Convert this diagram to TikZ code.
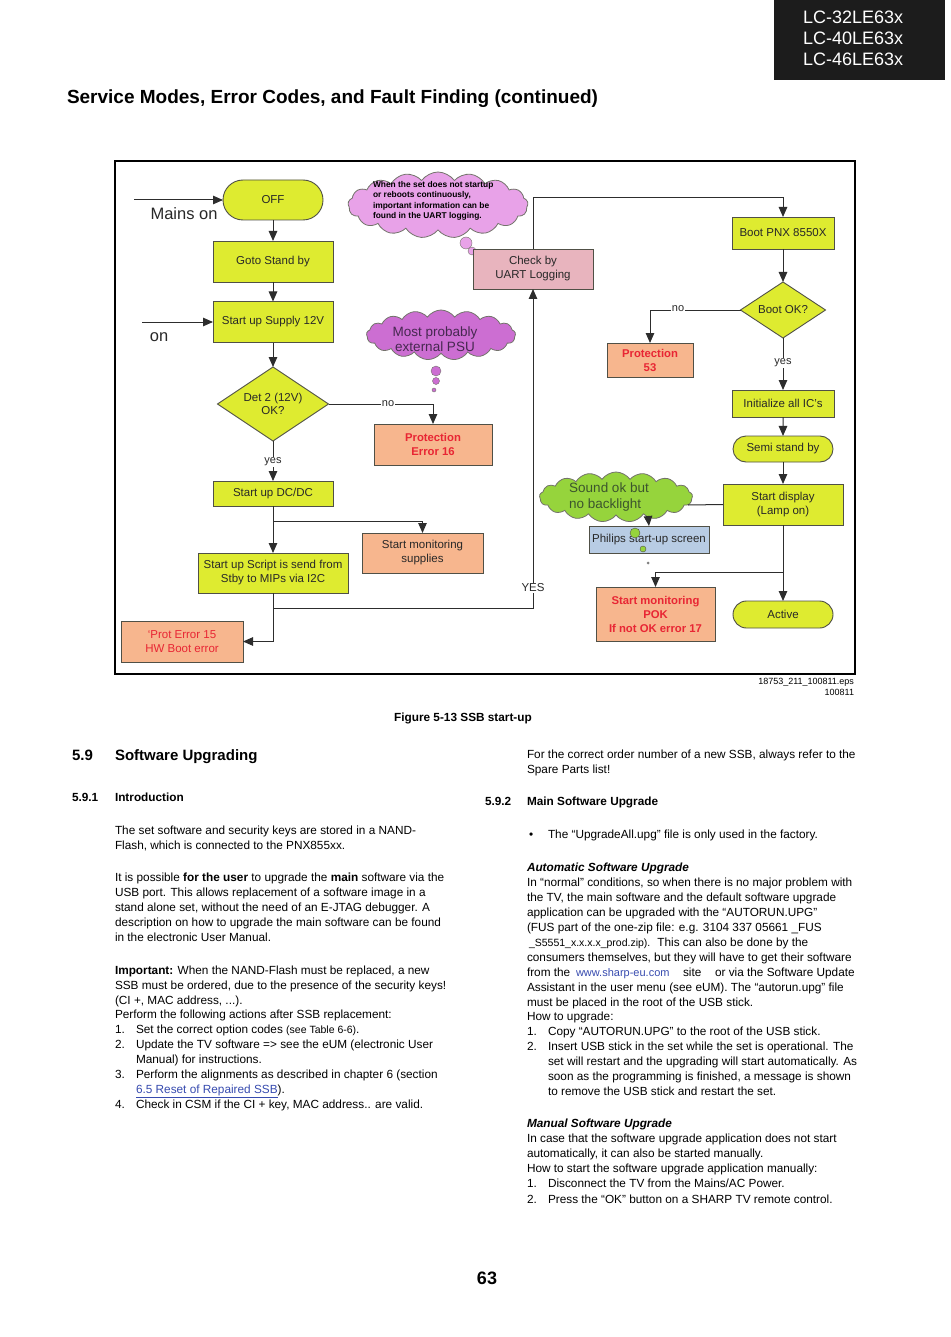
\documentclass[tikz,border=0pt]{standalone}
\usepackage{fontspec}
\setmainfont{Liberation Sans}
\usetikzlibrary{arrows.meta,shapes.geometric,shapes.symbols,shapes.misc}
\definecolor{yfill}{RGB}{222,235,48}
\definecolor{bdr}{RGB}{80,80,70}
\definecolor{salm}{RGB}{247,182,142}
\definecolor{redt}{RGB}{232,38,52}
\definecolor{uartc}{RGB}{232,180,190}
\definecolor{lilac}{RGB}{232,162,232}
\definecolor{magc}{RGB}{204,110,210}
\definecolor{grc}{RGB}{150,212,60}
\definecolor{bluebox}{RGB}{184,204,228}
\definecolor{txtc}{RGB}{40,40,40}
\definecolor{lnc}{RGB}{45,45,45}
\definecolor{linkc}{RGB}{55,75,175}
\definecolor{hdr}{RGB}{28,28,28}
\newcount\tlc
\newcommand\Ltx[3]{\global\advance\tlc by 1\relax
  \node[bt] (tl\the\tlc) at (#1,#2) {#3};}
\begin{document}
\begin{tikzpicture}[x=1pt,y=-1pt,
  every node/.style={inner sep=0pt,outer sep=0pt},
  ln/.style={draw=lnc,line width=1pt},
  arr/.style={ln,-{Triangle[length=10pt,width=8.5pt]}},
  box/.style={draw=bdr,line width=0.9pt,align=center,text=txtc,
    font=\fontsize{11.5}{14}\selectfont},
  ybox/.style={box,fill=yfill},
  sbox/.style={box,fill=salm},
  rbox/.style={sbox,text=redt,font=\bfseries\fontsize{11.3}{14}\selectfont},
  pill/.style={ybox,rounded rectangle},
  dia/.style={diamond,draw=bdr,fill=yfill,line width=0.9pt},
  dtext/.style={align=center,text=txtc,font=\fontsize{11.5}{13}\selectfont},
  lab/.style={fill=white,inner sep=1pt,text=txtc,font=\fontsize{11}{12}\selectfont},
  cl/.style={cloud,cloud puffs=17,cloud puff arc=110,cloud ignores aspect,draw=bdr!80,line width=0.8pt},
  bt/.style={anchor=base west,text=black,font=\fontsize{11.8}{15}\selectfont},
]
\useasboundingbox (0,0) rectangle (950,1337);
\fill[white] (0,0) rectangle (950,1337);

% header
\fill[hdr] (774,0) rectangle (945,80);
\node[anchor=base west,text=white,font=\fontsize{18}{20}\selectfont] (h1) at (803,24) {LC-32LE63x};
\node[anchor=base west,text=white,font=\fontsize{18}{20}\selectfont] (h2) at (803,45) {LC-40LE63x};
\node[anchor=base west,text=white,font=\fontsize{18}{20}\selectfont] (h3) at (803,66) {LC-46LE63x};
\node[anchor=base west,font=\bfseries\fontsize{19}{22}\selectfont] (title) at (67,104) {Service Modes, Error Codes, and Fault Finding (continued)};

% frame
\draw[line width=1.3pt,draw=black] (115,161) rectangle (855,674);

% clouds
\node[cl,fill=lilac,minimum width=180,minimum height=66] (cl1) at (438,205) {};
\node[anchor=north west,align=left,text=black,font=\bfseries\fontsize{8.4}{10.3}\selectfont] (cl1t) at (373,181.5) {When the set does not startup\\or reboots continuously,\\important information can be\\found in the UART logging.};
\draw[draw=bdr!80,fill=lilac] (466,243) circle[radius=6pt];
\draw[draw=bdr!80,fill=lilac] (472,251) circle[radius=4pt];
\draw[draw=bdr!80,fill=lilac] (476,256) circle[radius=2pt];

\node[cl,fill=magc,minimum width=149,minimum height=50] (cl2) at (441,335) {};
\node[align=center,text={rgb,255:red,70;green,40;blue,80},font=\fontsize{13.5}{15}\selectfont] (cl2t) at (435,339) {Most probably\\external PSU};
\draw[draw=bdr!80,fill=magc] (436,371) circle[radius=5pt];
\draw[draw=bdr!80,fill=magc] (436,381) circle[radius=3.5pt];
\draw[draw=bdr!80,fill=magc] (434,390) circle[radius=2pt];

\node[cl,fill=grc,minimum width=153,minimum height=50] (cl3) at (616,497) {};
\node[align=left,text={rgb,255:red,60;green,85;blue,45},font=\fontsize{13.5}{16}\selectfont] (cl3t) at (609,497) {Sound ok but\\no backlight};

% boxes left column
\node[pill,minimum width=100,minimum height=40] (off) at (273,200) {OFF};
\node[ybox,minimum width=120,minimum height=41] (standby) at (273,261.5) {Goto Stand by};
\node[ybox,minimum width=120,minimum height=41] (supply) at (273,322) {Start up Supply 12V};
\node[dia,minimum width=111,minimum height=74] (det2) at (273,404) {};
\node[dtext] (det2t) at (273,404) {Det 2 (12V)\\OK?};
\node[rbox,minimum width=118,minimum height=41] (prot16) at (433,444.5) {Protection\\Error 16};
\node[ybox,minimum width=120,minimum height=25] (dcdc) at (273,493.5) {Start up DC/DC};
\node[sbox,minimum width=121,minimum height=40] (monsup) at (422.5,553) {Start monitoring\\supplies};
\node[ybox,minimum width=150,minimum height=40] (script) at (273,573) {Start up Script is send from\\Stby to MIPs via I2C};
\node[sbox,text=redt,minimum width=122,minimum height=41] (prot15) at (182,641.5) {`Prot Error 15\\HW Boot error};
\node[box,fill=uartc,minimum width=120,minimum height=40] (uart) at (533,269) {Check by\\UART Logging};

% right column
\node[ybox,minimum width=102,minimum height=32] (bootpnx) at (783,233) {Boot PNX 8550X};
\node[dia,minimum width=85,minimum height=56] (bootok) at (783,310) {};
\node[dtext] (bootokt) at (783,310) {Boot OK?};
\node[rbox,minimum width=86,minimum height=34] (prot53) at (650,360) {Protection\\53};
\node[ybox,minimum width=102,minimum height=27] (initic) at (783,403.5) {Initialize all IC's};
\node[pill,minimum width=100,minimum height=26] (semi) at (783,449) {Semi stand by};
\node[ybox,minimum width=120,minimum height=41] (display) at (783,504.5) {Start display\\(Lamp on)};
\node[pill,minimum width=100,minimum height=27] (active) at (783,614.5) {Active};
\node[rbox,minimum width=119,minimum height=54] (pok) at (655.5,614) {Start monitoring\\POK\\If not OK error 17};
\node[box,fill=bluebox,minimum width=120,minimum height=27] (philips) at (649,539.5) {Philips start-up screen};
\draw[draw=bdr,fill=grc] (635,533) circle[radius=5pt];
\draw[draw=bdr,fill=grc] (643,549) circle[radius=3pt];
\fill[gray] (648,563) circle[radius=1.5pt];

% outside labels
\node[font=\fontsize{16.5}{18}\selectfont,text=txtc] (mainst) at (184,214) {Mains on};
\node[font=\fontsize{16.5}{18}\selectfont,text=txtc] (ont) at (159,337) {on};
\coordinate (mainsin) at (134,200);
\coordinate (onin) at (142,322);

% connectors
\draw[arr] (mainsin) -- (off.west);
\draw[arr] (onin) -- (supply.west);
\draw[arr] (off) -- (standby);
\draw[arr] (standby) -- (supply);
\draw[arr] (supply) -- (det2.north);
\draw[arr] (det2.east) -| (prot16.north);
\node[lab] (no1) at (388,404) {no};
\draw[arr] (det2.south) -- (dcdc.north);
\node[lab] (yes1) at (273,462) {yes};
\coordinate (j1) at (273,521);
\draw[ln] (dcdc.south) -- (j1);
\draw[arr] (j1) -| (monsup.north);
\draw[arr] (j1) -- (script.north);
\draw[arr] (script.south) |- (prot15.east);
\coordinate (j2) at (273,608);
\draw[arr] (j2) -| (uart.south);
\node[lab,font=\fontsize{11.5}{12}\selectfont] (yes2) at (533,588) {YES};
\coordinate (topc) at (533,198);
\draw[arr] (uart.north) -- (topc) -| (bootpnx.north);
\draw[arr] (bootpnx) -- (bootok.north);
\draw[arr] (bootok.west) -| (prot53.north);
\node[lab] (no2) at (678,309) {no};
\draw[arr] (bootok.south) -- (initic.north);
\node[lab] (yes3) at (783,363) {yes};
\draw[arr] (initic) -- (semi);
\draw[arr] (semi) -- (display);
\draw[arr] (display) -- (active);
\coordinate (j3) at (783,572);
\draw[arr] (j3) -| (pok.north);
\coordinate (c3r) at (688,505);
\draw[ln] (display.west) -- (c3r);
\coordinate (c3b) at (648,516);
\draw[arr] (c3b) -- (philips.north);

% figure ids and caption
\node[anchor=base east,font=\fontsize{9}{10}\selectfont] (eps1) at (854,684) {18753\_211\_100811.eps};
\node[anchor=base east,font=\fontsize{9}{10}\selectfont] (eps2) at (854,695) {100811};
\node[anchor=base,font=\bfseries\fontsize{11.8}{14}\selectfont] (cap) at (463,721) {Figure 5-13 SSB start-up};

% left column text
\node[anchor=base west,font=\bfseries\fontsize{15}{18}\selectfont] (s59n) at (72,760) {5.9};
\node[anchor=base west,font=\bfseries\fontsize{15}{18}\selectfont] (s59t) at (115,760) {Software Upgrading};
\node[anchor=base west,font=\bfseries\fontsize{11.8}{14}\selectfont] (s591n) at (72,801) {5.9.1};
\node[anchor=base west,font=\bfseries\fontsize{11.8}{14}\selectfont] (s591t) at (115,801) {Introduction};
\Ltx{115}{834}{The set software and security keys are stored in a NAND-}
\Ltx{115}{849}{Flash, which is connected to the PNX855xx.}
\Ltx{115}{881}{It is possible \textbf{for the user} to upgrade the \textbf{main} software via the}
\Ltx{115}{896}{USB port. This allows replacement of a software image in a}
\Ltx{115}{911}{stand alone set, without the need of an E-JTAG debugger. A}
\Ltx{115}{926}{description on how to upgrade the main software can be found}
\Ltx{115}{941}{in the electronic User Manual.}
\Ltx{115}{974}{\textbf{Important:} When the NAND-Flash must be replaced, a new}
\Ltx{115}{989}{SSB must be ordered, due to the presence of the security keys!}
\Ltx{115}{1004}{(CI +, MAC address, ...).}
\Ltx{115}{1018}{Perform the following actions after SSB replacement:}
\Ltx{115}{1033}{1.}
\Ltx{136}{1033}{Set the correct option codes {\fontsize{10.5}{12}\selectfont(see Table 6-6)}.}
\Ltx{115}{1048}{2.}
\Ltx{136}{1048}{Update the TV software => see the eUM (electronic User}
\Ltx{136}{1063}{Manual) for instructions.}
\Ltx{115}{1078}{3.}
\Ltx{136}{1078}{Perform the alignments as described in chapter 6 (section}
\Ltx{136}{1093}{\textcolor{linkc}{\underline{6.5 Reset of Repaired SSB}}).}
\Ltx{115}{1108}{4.}
\Ltx{136}{1108}{Check in CSM if the CI + key, MAC address.. are valid.}

% right column text
\Ltx{527}{758}{For the correct order number of a new SSB, always refer to the}
\Ltx{527}{773}{Spare Parts list!}
\node[anchor=base west,font=\bfseries\fontsize{11.8}{14}\selectfont] (s592n) at (485,805) {5.9.2};
\node[anchor=base west,font=\bfseries\fontsize{11.8}{14}\selectfont] (s592t) at (527,805) {Main Software Upgrade};
\Ltx{529}{838}{•}
\Ltx{548}{838}{The “UpgradeAll.upg” file is only used in the factory.}
\node[anchor=base west,font=\bfseries\itshape\fontsize{11.8}{14}\selectfont] (auto) at (527,871) {Automatic Software Upgrade};
\Ltx{527}{886}{In “normal” conditions, so when there is no major problem with}
\Ltx{527}{901}{the TV, the main software and the default software upgrade}
\Ltx{527}{916}{application can be upgraded with the “AUTORUN.UPG”}
\Ltx{527}{931}{(FUS part of the one-zip file: e.g. 3104 337 05661 \_FUS}
\Ltx{529}{946}{{\fontsize{10.5}{12}\selectfont\_S5551\_x.x.x.x\_prod.zip).}\hspace{7pt}This can also be done by the}
\Ltx{527}{961}{consumers themselves, but they will have to get their software}
\Ltx{527}{976}{from the}
\node[anchor=base west,text=linkc,font=\fontsize{11}{13}\selectfont] (url) at (576,976) {www.sharp-eu.com};
\Ltx{683}{976}{site}
\Ltx{715}{976}{or via the Software Update}
\Ltx{527}{991}{Assistant in the user menu (see eUM). The “autorun.upg” file}
\Ltx{527}{1006}{must be placed in the root of the USB stick.}
\Ltx{527}{1020}{How to upgrade:}
\Ltx{527}{1035}{1.}
\Ltx{548}{1035}{Copy “AUTORUN.UPG” to the root of the USB stick.}
\Ltx{527}{1050}{2.}
\Ltx{548}{1050}{Insert USB stick in the set while the set is operational. The}
\Ltx{548}{1065}{set will restart and the upgrading will start automatically. As}
\Ltx{548}{1080}{soon as the programming is finished, a message is shown}
\Ltx{548}{1095}{to remove the USB stick and restart the set.}
\node[anchor=base west,font=\bfseries\itshape\fontsize{11.8}{14}\selectfont] (manual) at (527,1127) {Manual Software Upgrade};
\Ltx{527}{1142}{In case that the software upgrade application does not start}
\Ltx{527}{1157}{automatically, it can also be started manually.}
\Ltx{527}{1172}{How to start the software upgrade application manually:}
\Ltx{527}{1187}{1.}
\Ltx{548}{1187}{Disconnect the TV from the Mains/AC Power.}
\Ltx{527}{1203}{2.}
\Ltx{548}{1203}{Press the “OK” button on a SHARP TV remote control.}

\node[anchor=base,font=\bfseries\fontsize{18}{20}\selectfont] (pgno) at (487,1284) {63};
\end{tikzpicture}
\end{document}
